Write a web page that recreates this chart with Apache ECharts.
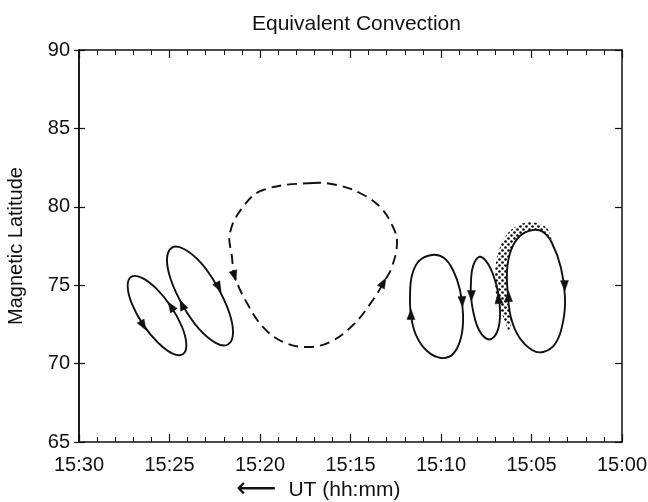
<!DOCTYPE html>
<html><head><meta charset="utf-8">
<script src="https://cdn.jsdelivr.net/npm/echarts@6/dist/echarts.min.js"></script>
<style>html,body{margin:0;padding:0;background:#fff}#c{width:648px;height:502px}</style>
</head><body><div id="c"></div>
<script>
// x values: minutes after 15:00 (axis runs right-to-left in time)
const xTickLabels = ['15:00','15:05','15:10','15:15','15:20','15:25','15:30'];
const yTickLabels = ['65','70','75','80','85','90'];

const loop1 = [[24.25,70.61],[24.07,71.23],[24.31,72.35],[24.93,73.66],[25.75,74.81],[26.55,75.49],[27.13,75.52],[27.31,74.90],[27.07,73.79],[26.45,72.47],[25.63,71.33],[24.83,70.64]];
const loop2 = [[24.86,77.40],[25.14,76.67],[24.92,75.33],[24.25,73.67],[23.37,72.21],[22.43,71.31],[21.77,71.22],[21.49,71.95],[21.71,73.29],[22.38,74.95],[23.26,76.42],[24.20,77.31]];
const loopDashed = [[17.07,81.52],[19.83,81.07],[20.94,79.99],[21.66,78.33],[21.55,76.80],[21.38,75.52],[20.72,73.86],[19.83,72.33],[18.73,71.38],[17.40,71.06],[16.13,71.38],[14.86,72.46],[13.76,74.06],[13.09,75.33],[12.71,76.16],[12.43,77.69],[12.65,78.71],[13.37,79.99],[14.48,80.88],[15.75,81.39]];
const loop3 = [[10.50,76.93],[11.22,76.54],[11.60,75.65],[11.71,74.38],[11.66,73.10],[11.38,71.82],[10.77,70.80],[10.00,70.36],[9.34,70.61],[8.90,71.63],[8.78,73.10],[8.95,74.69],[9.34,75.97],[9.83,76.73]];
const loop4 = [[7.90,76.80],[8.23,76.22],[8.34,75.33],[8.34,74.25],[8.18,73.10],[7.90,72.14],[7.46,71.57],[7.07,71.70],[6.80,72.40],[6.74,73.42],[6.85,74.57],[7.13,75.71],[7.51,76.54]];
const loop5 = [[4.92,78.52],[5.64,78.14],[6.13,77.24],[6.35,75.97],[6.30,74.38],[6.13,72.91],[5.69,71.70],[4.97,70.87],[4.36,70.74],[3.70,71.25],[3.26,72.65],[3.15,74.25],[3.37,76.10],[3.87,77.69],[4.36,78.39]];
const shadedRegion = [[3.87,77.69],[4.14,78.65],[5.08,79.03],[6.08,78.58],[6.74,77.44],[7.02,75.78],[6.91,74.06],[6.57,72.97],[6.24,72.08],[6.13,72.75],[6.30,74.38],[6.35,75.97],[6.13,77.24],[5.64,78.14],[4.92,78.52],[4.36,78.39]];
// arrows: [from minute, from lat, tip minute, tip lat]
const arrows = [
  [26.63,72.78,26.30,72.14],[24.75,73.36,25.08,73.93],
  [24.20,73.48,24.42,74.06],[22.38,75.08,22.15,74.57],
  [21.49,75.91,21.33,75.27],[13.31,74.89,13.04,75.46],
  [11.66,72.78,11.66,73.48],[8.84,74.31,8.82,73.61],
  [8.32,74.50,8.32,73.99],[6.80,73.86,6.85,74.50],
  [6.27,73.93,6.27,74.63],[3.18,75.33,3.16,74.63]
];

const FONT = 'Liberation Sans, Arial, Helvetica, sans-serif';
const INK = '#111';

const pc = document.createElement('canvas');
pc.width = 6; pc.height = 6;
const pctx = pc.getContext('2d');
pctx.fillStyle = '#fff'; pctx.fillRect(0,0,6,6);
pctx.fillStyle = '#000';
pctx.beginPath(); pctx.arc(1.5,1.5,1.3,0,Math.PI*2); pctx.fill();
pctx.beginPath(); pctx.arc(4.5,4.5,1.3,0,Math.PI*2); pctx.fill();

function loopSeries(pts, dashed) {
  return {
    type: 'custom', coordinateSystem: 'cartesian2d', xAxisIndex: 0, yAxisIndex: 0,
    data: pts, silent: true, clip: false,
    renderItem: function (params, api) {
      if (params.dataIndex !== 0) return null;
      const p = pts.map(d => api.coord(d));
      return { type: 'polygon', shape: { points: p, smooth: 0.4 },
        style: { fill: 'none', stroke: INK, lineWidth: 1.9, lineDash: dashed ? [10, 6] : null } };
    }
  };
}

const chart = echarts.init(document.getElementById('c'));
const xCommon = {
  type: 'value', min: 0, max: 30, interval: 5, inverse: true,
  splitLine: { show: false },
  axisLine: { show: true, onZero: false, lineStyle: { color: INK, width: 1.5 } },
  minorSplitLine: { show: false }
};
const yCommon = {
  type: 'value', min: 65, max: 90, interval: 5,
  splitLine: { show: false },
  axisLine: { show: true, onZero: false, lineStyle: { color: INK, width: 1.5 } }
};
chart.setOption({
  animation: false,
  backgroundColor: '#fff',
  title: { text: 'Equivalent Convection', left: 247, top: 9,
    textStyle: { fontFamily: FONT, fontSize: 21, fontWeight: 'normal', color: INK } },
  grid: { left: 79, right: 26, top: 50, bottom: 60, containLabel: false, outerBoundsMode: 'none' },
  xAxis: [
    Object.assign({}, xCommon, {
      position: 'bottom',
      axisTick: { show: true, inside: true, length: 8, lineStyle: { color: INK, width: 1.2 } },
      minorTick: { show: true, splitNumber: 5, length: 5, lineStyle: { color: INK, width: 1 } },
      axisLabel: { show: true, margin: 13, fontFamily: FONT, fontSize: 20, color: INK,
        formatter: v => xTickLabels[Math.round(v / 5)] },
      name: '{a|⟵}  UT (hh:mm)', nameLocation: 'middle', nameGap: 37, nameMoveOverlap: false,
      nameTextStyle: { fontFamily: FONT, fontSize: 21, lineHeight: 22, color: INK, padding: [0, 64, 0, 0],
        rich: { a: { fontFamily: 'DejaVu Sans', fontSize: 28, lineHeight: 22, color: INK } } }
    }),
    Object.assign({}, xCommon, {
      position: 'top',
      axisTick: { show: true, inside: true, length: 8, lineStyle: { color: INK, width: 1.2 } },
      minorTick: { show: true, splitNumber: 5, length: 5, lineStyle: { color: INK, width: 1 } },
      axisLabel: { show: false }
    })
  ],
  yAxis: [
    Object.assign({}, yCommon, {
      position: 'left',
      axisTick: { show: true, inside: true, length: 6, lineStyle: { color: INK, width: 1.2 } },
      axisLabel: { show: true, margin: 9, fontFamily: FONT, fontSize: 20, color: INK,
        formatter: v => yTickLabels[Math.round((v - 65) / 5)] },
      name: 'Magnetic Latitude', nameLocation: 'middle', nameGap: 53,
      nameTextStyle: { fontFamily: FONT, fontSize: 20, color: INK }
    }),
    Object.assign({}, yCommon, {
      position: 'right',
      axisTick: { show: true, inside: true, length: 7, lineStyle: { color: INK, width: 1.2 } },
      axisLabel: { show: false }
    }),
    Object.assign({}, yCommon, {
      position: 'left',
      axisTick: { show: true, inside: false, length: 5, lineStyle: { color: INK, width: 1.2 } },
      axisLabel: { show: false }
    })
  ],
  series: [
    {
      type: 'custom', coordinateSystem: 'cartesian2d', xAxisIndex: 0, yAxisIndex: 0,
      data: shadedRegion, silent: true, clip: false,
      renderItem: function (params, api) {
        if (params.dataIndex !== 0) return null;
        const p = shadedRegion.map(d => api.coord(d));
        return { type: 'polygon', shape: { points: p, smooth: 0.3 },
          style: { fill: { image: pc, repeat: 'repeat' }, stroke: 'none' } };
      }
    },
    loopSeries(loop1, false),
    loopSeries(loop2, false),
    loopSeries(loopDashed, true),
    loopSeries(loop3, false),
    loopSeries(loop4, false),
    loopSeries(loop5, false),
    {
      type: 'custom', coordinateSystem: 'cartesian2d', xAxisIndex: 0, yAxisIndex: 0,
      dimensions: ['x0', 'y0', 'x1', 'y1'], encode: { x: [0, 2], y: [1, 3] },
      data: arrows, silent: true, clip: false,
      renderItem: function (params, api) {
        const a = api.coord([api.value(0), api.value(1)]);
        const b = api.coord([api.value(2), api.value(3)]);
        let dx = b[0] - a[0], dy = b[1] - a[1];
        const L = Math.hypot(dx, dy) || 1; dx /= L; dy /= L;
        const len = 10.5, w = 4;
        const bx = b[0] - dx * len, by = b[1] - dy * len;
        return { type: 'polygon',
          shape: { points: [[b[0], b[1]], [bx - dy * w, by + dx * w], [bx + dy * w, by - dx * w]] },
          style: { fill: INK, stroke: INK, lineWidth: 0.5 } };
      }
    }
  ]
});
</script></body></html>
